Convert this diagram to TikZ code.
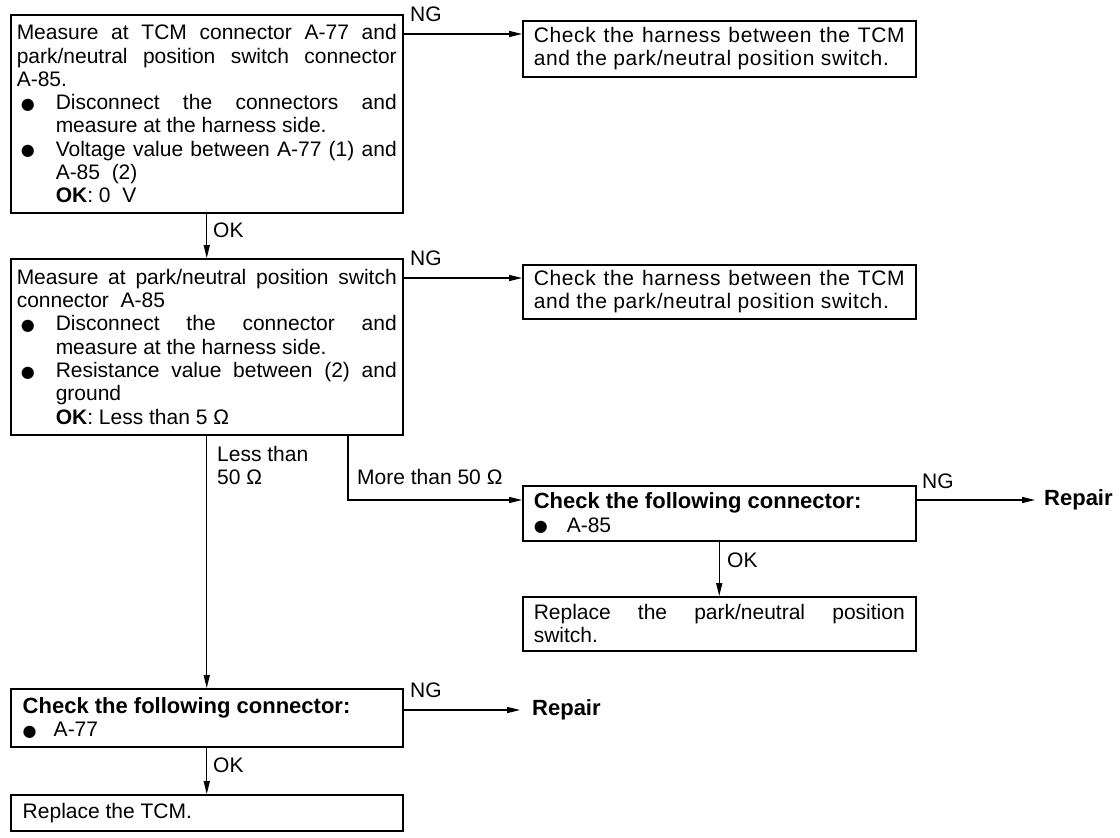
\documentclass[tikz,border=0pt]{standalone}
\usepackage{fontspec}
\setmainfont{Liberation Sans}
\newfontfamily\dejavu{DejaVu Sans}
\usetikzlibrary{arrows.meta}
\newcommand\fs{\fontsize{21}{23.3}\selectfont}
\newcommand\bfs{\fontsize{22}{23.3}\selectfont\bfseries}
\newcommand\blt{\raisebox{0.5pt}{\dejavu\fontsize{16}{16}\selectfont ●}}
% \itm[leftskip]{gap between bullet start and text}{text}
\newcommand\itm[3][39pt]{{\leftskip=#1\noindent\llap{\makebox[#2][l]{\blt}}#3\par}}
\begin{document}
\begin{tikzpicture}[x=1pt,y=-1pt,
  box/.style={draw, line width=1.5pt, anchor=north west, inner ysep=0pt,
    font=\fs, align=justify, execute at begin node={\hyphenpenalty=10000\exhyphenpenalty=10000\tolerance=10000\hbadness=10000}},
  lbox/.style={box, inner xsep=6pt, text width=380pt},
  bbox/.style={box, inner xsep=12pt, text width=368pt},
  rbox/.style={box, inner xsep=11pt, text width=371pt},
  arr/.style={line width=1.3pt, -{Triangle[length=13pt,width=6pt]}},
  lbl/.style={font=\fs, inner sep=0pt}]
\useasboundingbox (0,0) rectangle (1120,838);
% boxes
\node[lbox, minimum height=198pt] (b1) at (10,14) {%
Measure at TCM connector A-77 and\linebreak park/neutral position switch connector\linebreak A-85.\par
\itm{35pt}{Disconnect the connectors and\linebreak measure at the harness side.}
\itm{35pt}{Voltage value between A-77 (1) and\linebreak A-85\ \ (2)\par\noindent\textbf{OK}: 0\ \ V}};
\node[rbox, minimum height=56pt] (t1) at (522,20) {\addfontfeatures{LetterSpace=3}%
Check the harness between the TCM\linebreak and the park/neutral position switch.};
\node[lbox, minimum height=176pt] (b2) at (10,258) {%
Measure at park/neutral position switch\linebreak connector\ \ A-85\par
\itm{35pt}{Disconnect the connector and\linebreak measure at the harness side.}
\itm{35pt}{Resistance value between (2) and\linebreak ground\par\noindent\textbf{OK}: Less than 5 Ω}};
\node[rbox, minimum height=54pt] (t2) at (522,264) {\addfontfeatures{LetterSpace=3}%
Check the harness between the TCM\linebreak and the park/neutral position switch.};
\node[rbox, minimum height=55pt] (bC) at (522,485) {%
\noindent{\bfs Check the following connector:}\par
\itm[33pt]{33pt}{A-85}};
\node[rbox, minimum height=54pt] (bD) at (522,596) {%
Replace the park/neutral position\linebreak switch.};
\node[bbox, minimum height=58pt] (bB) at (10,688) {%
\noindent{\bfs Check the following connector:}\par
\itm[31pt]{31pt}{A-77}};
\node[bbox, minimum height=36pt] (bE) at (10,794) {Replace the TCM.};
% end labels
\node[lbl, font=\bfs, anchor=west, inner xsep=9pt] (rep1) at (1035,500) {Repair};
\node[lbl, font=\bfs, anchor=west, inner xsep=12pt] (rep2) at (520,710) {Repair};
% helper coordinates
\coordinate (y34) at (0,34);
\coordinate (y278) at (0,278);
\coordinate (y500) at (0,500);
\coordinate (y710) at (0,710);
\coordinate (mx) at (348,0);
% connectors
\draw[arr] (b1.east |- y34) -- (t1.west |- y34);
\draw[arr] (b1.south) -- (b2.north);
\draw[arr] (b2.east |- y278) -- (t2.west |- y278);
\draw[arr] (b2.south) -- (bB.north);
\draw[arr] (b2.south -| mx) |- (bC.west |- y500);
\draw[arr] (bC.east |- y500) -- (rep1.west);
\draw[arr] (bC.south) -- (bD.north);
\draw[arr] (bB.east |- y710) -- (rep2.west);
\draw[arr] (bB.south) -- (bE.north);
% connector labels
\node[lbl, anchor=base west] (ng1) at (410,21) {NG};
\node[lbl, anchor=west] (ok1) at (213,230) {OK};
\node[lbl, anchor=base west] (ng2) at (410,265) {NG};
\node[lbl, anchor=north west, align=left] (lt50) at (217,446) {Less than\\50 Ω};
\node[lbl, anchor=base west] (mt50) at (357,484) {More than 50 Ω};
\node[lbl, anchor=base west] (ng3) at (922,488) {NG};
\node[lbl, anchor=west] (ok3) at (727,560) {OK};
\node[lbl, anchor=base west] (ng4) at (410,697) {NG};
\node[lbl, anchor=west] (ok4) at (213,765) {OK};
\end{tikzpicture}
\end{document}
